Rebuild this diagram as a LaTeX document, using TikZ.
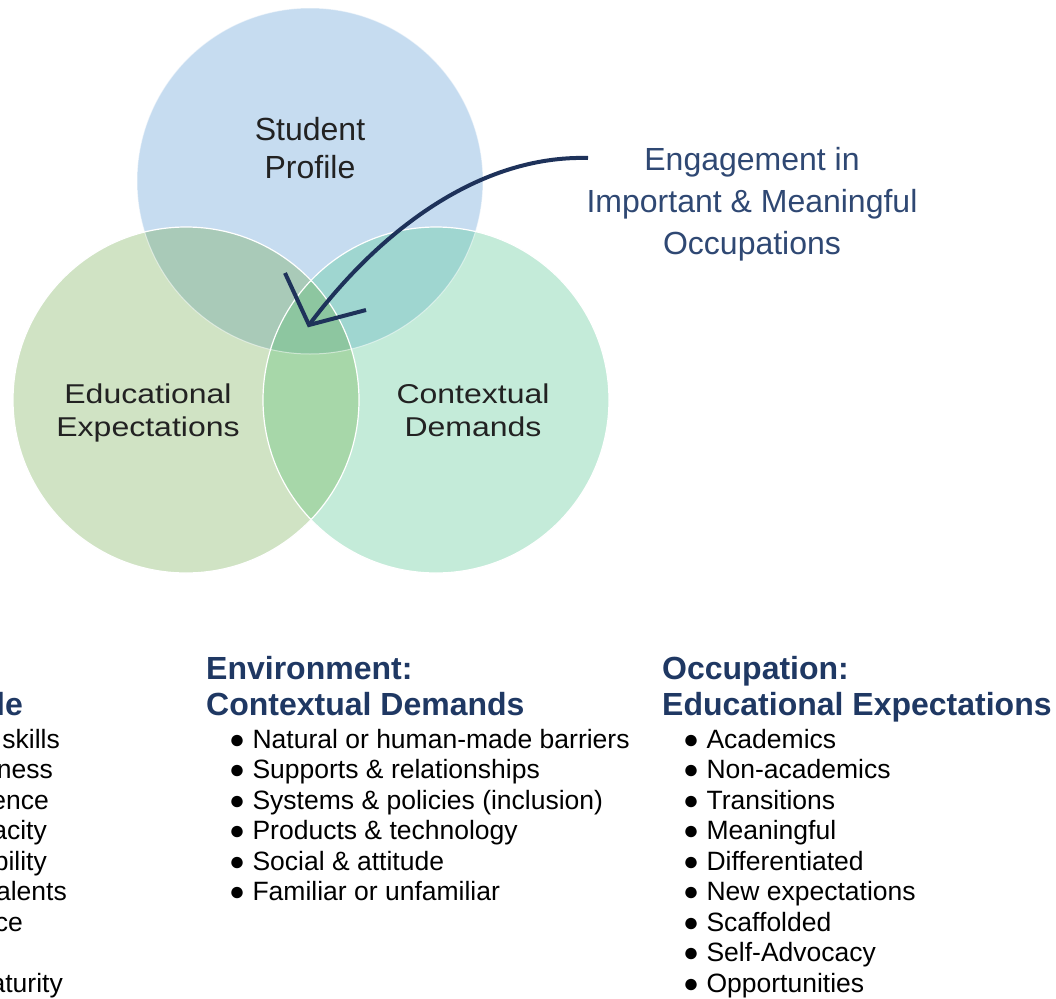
\documentclass[tikz,border=0pt]{standalone}
\usepackage{fontspec}
\setmainfont{Liberation Sans}

\definecolor{profblue}{HTML}{C6DCF0}
\definecolor{expgreen}{HTML}{D0E3C4}
\definecolor{demmint}{HTML}{C4EBD9}
\definecolor{profexp}{HTML}{A9CAB8}
\definecolor{profdem}{HTML}{9FD6D0}
\definecolor{expdem}{HTML}{A7D7A9}
\definecolor{allthree}{HTML}{8DC6A0}
\definecolor{venntext}{HTML}{222222}
\definecolor{engagecol}{HTML}{2F4873}
\definecolor{headcol}{HTML}{1F3863}
\definecolor{arrowcol}{HTML}{1E325A}

\tikzset{
  vennlabel/.style={align=center, text=venntext, inner sep=0, font=\fontsize{32}{38}\selectfont},
  engagelabel/.style={align=center, text=engagecol, inner sep=0, font=\fontsize{32}{42}\selectfont},
  listhead/.style={align=left, text=headcol, inner sep=0, font=\bfseries\fontsize{32}{36}\selectfont},
  listitem/.style={anchor=base west, inner sep=0, font=\fontsize{26.5}{30.5}\selectfont},
  arrowline/.style={draw=arrowcol, line width=4}
}

\begin{document}
\begin{tikzpicture}[x=1pt, y=-1pt]
\useasboundingbox (0,0) rectangle (1056,998);

\coordinate (prof) at (310,181);
\coordinate (expe) at (186,400);
\coordinate (dema) at (436,400);

\fill[profblue] (prof) circle[radius=173];
\fill[expgreen] (expe) circle[radius=173];
\fill[demmint] (dema) circle[radius=173];

\begin{scope}
\clip (prof) circle[radius=173];
\fill[profexp] (expe) circle[radius=173];
\fill[profdem] (dema) circle[radius=173];
\end{scope}
\begin{scope}
\clip (expe) circle[radius=173];
\fill[expdem] (dema) circle[radius=173];
\clip (prof) circle[radius=173];
\fill[allthree] (dema) circle[radius=173];
\end{scope}

\draw[white, line width=1, opacity=0.5] (prof) circle[radius=173];
\draw[white, line width=1.2] (expe) circle[radius=173];
\draw[white, line width=1.2] (dema) circle[radius=173];

\node[vennlabel, anchor=base] (proflabel) at (310,178) {Student\\Profile};
\node[vennlabel, anchor=base, yscale=0.85, transform shape] (expelabel) at (148,436) {Educational\\Expectations};
\node[vennlabel, anchor=base, yscale=0.85, transform shape] (demalabel) at (473,436) {Contextual\\Demands};

\node[engagelabel, anchor=base] (engage) at (752,254) {Engagement in\\Important \& Meaningful\\Occupations};

\coordinate (arrowfrom) at (588,158);
\coordinate (tip) at (309,325);
\draw[arrowline] (arrowfrom) .. controls (480,155) and (380,230) .. (tip);
\draw[arrowline] ([shift={(-24,-52)}]tip) -- (tip) -- ([shift={(57,-15)}]tip);

\node[listhead, anchor=base east] (perhead) at (23,715) {le};
\node[listhead, anchor=base west] (envhead) at (206,715) {Environment:\\Contextual Demands};
\node[listhead, anchor=base west] (occhead) at (662,715) {Occupation:\\Educational Expectations};

\foreach \txt/\xe/\k in {skills/60/0, ness/53/1, ence/49/2, acity/47/3, bility/47/4, alents/67/5, ce/23/6, aturity/63/8}
	\node[listitem, anchor=base east] (per\k) at (\xe, {748+30.5*\k}) {\txt};

\foreach \txt [count=\i] in {{Natural or human-made barriers}, {Supports \& relationships}, {Systems \& policies (inclusion)}, {Products \& technology}, {Social \& attitude}, {Familiar or unfamiliar}}
	\node[listitem] (env\i) at (229, {748+30.5*(\i-1)}) {●\ \txt};

\foreach \txt [count=\i] in {Academics, Non-academics, Transitions, Meaningful, Differentiated, {New expectations}, Scaffolded, Self-Advocacy, Opportunities}
	\node[listitem] (occ\i) at (683, {748+30.5*(\i-1)}) {●\ \txt};

\end{tikzpicture}
\end{document}
